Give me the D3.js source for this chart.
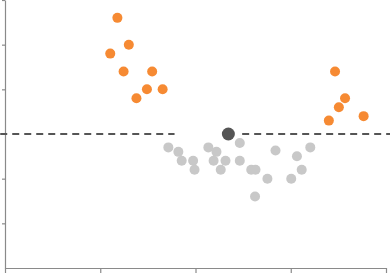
<!DOCTYPE html>
<html>
<head>
<meta charset="utf-8">
<script src="https://cdn.jsdelivr.net/npm/d3@7"></script>
<style>
  body { margin: 0; background: #fff; }
  svg { display: block; }
</style>
</head>
<body>
<svg id="chart"></svg>
<script>
// points (x, y in chart units)
const highX = [1.18, 1.30, 1.105, 1.245, 1.545, 1.49, 1.655, 1.38, 3.465, 3.57, 3.505, 3.40, 3.765];
const highY = [5.6, 5.0, 4.8, 4.4, 4.4, 4.0, 4.0, 3.8, 4.4, 3.8, 3.6, 3.3, 3.4];

const lowX = [1.715, 1.82, 1.855, 1.975, 1.99, 2.135, 2.22, 2.19, 2.315, 2.265, 2.465, 2.465,
  2.585, 2.63, 2.625, 2.755, 2.84, 3.005, 3.065, 3.115, 3.205];
const lowY = [2.7, 2.6, 2.4, 2.4, 2.2, 2.7, 2.6, 2.4, 2.4, 2.2, 2.8, 2.4,
  2.2, 2.2, 1.6, 2.0, 2.63, 2.0, 2.5, 2.2, 2.7];

const centerPoint = [2.345, 3.0];

// dashed reference line, broken round the centre point
const refY = 3.0;
const refSegments = [[-0.05, 1.78], [2.49, 4.05]];

const xTicks = [0, 1, 2, 3, 4];
const yTicks = [0, 1, 2, 3, 4, 5, 6];

const width = 390, height = 274;
const margin = {top: 0, right: 4, bottom: 6, left: 5};

const svg = d3.select("#chart")
  .attr("width", width)
  .attr("height", height);

const x = d3.scaleLinear()
  .domain([0, 4])
  .range([margin.left, width - margin.right]);

const y = d3.scaleLinear()
  .domain([0, 6])
  .range([height - margin.bottom, margin.top]);

// axes, no labels
const xAxis = svg.append("g")
  .attr("transform", `translate(0,${y(0)})`)
  .call(d3.axisBottom(x).tickValues(xTicks).tickSize(5).tickSizeOuter(0).tickFormat(""));

const yAxis = svg.append("g")
  .attr("transform", `translate(${x(0)},0)`)
  .call(d3.axisLeft(y).tickValues(yTicks.filter(d => d != 0 && d != 3)).tickSize(3).tickSizeOuter(0).tickFormat(""));

svg.selectAll(".domain, .tick line")
  .attr("stroke", "#8a8a8a")
  .attr("stroke-width", 1.2);

// dashed line
svg.append("g")
  .selectAll("line")
  .data(refSegments)
  .enter()
  .append("line")
  .attr("x1", d => x(d[0]))
  .attr("x2", d => x(d[1]))
  .attr("y1", y(refY))
  .attr("y2", y(refY))
  .attr("stroke", "#555")
  .attr("stroke-width", 2)
  .attr("stroke-dasharray", "7,5");

// grey points
svg.append("g")
  .selectAll("circle")
  .data(lowX.map((d, i) => [d, lowY[i]]))
  .enter()
  .append("circle")
  .attr("cx", d => x(d[0]))
  .attr("cy", d => y(d[1]))
  .attr("r", 5)
  .attr("fill", "#c8c8c8");

// orange points
svg.append("g")
  .selectAll("circle")
  .data(highX.map((d, i) => [d, highY[i]]))
  .enter()
  .append("circle")
  .attr("cx", d => x(d[0]))
  .attr("cy", d => y(d[1]))
  .attr("r", 5)
  .attr("fill", "#f68a33");

// centre point
svg.append("circle")
  .attr("cx", x(centerPoint[0]))
  .attr("cy", y(centerPoint[1]))
  .attr("r", 6.5)
  .attr("fill", "#555");
</script>
</body>
</html>
